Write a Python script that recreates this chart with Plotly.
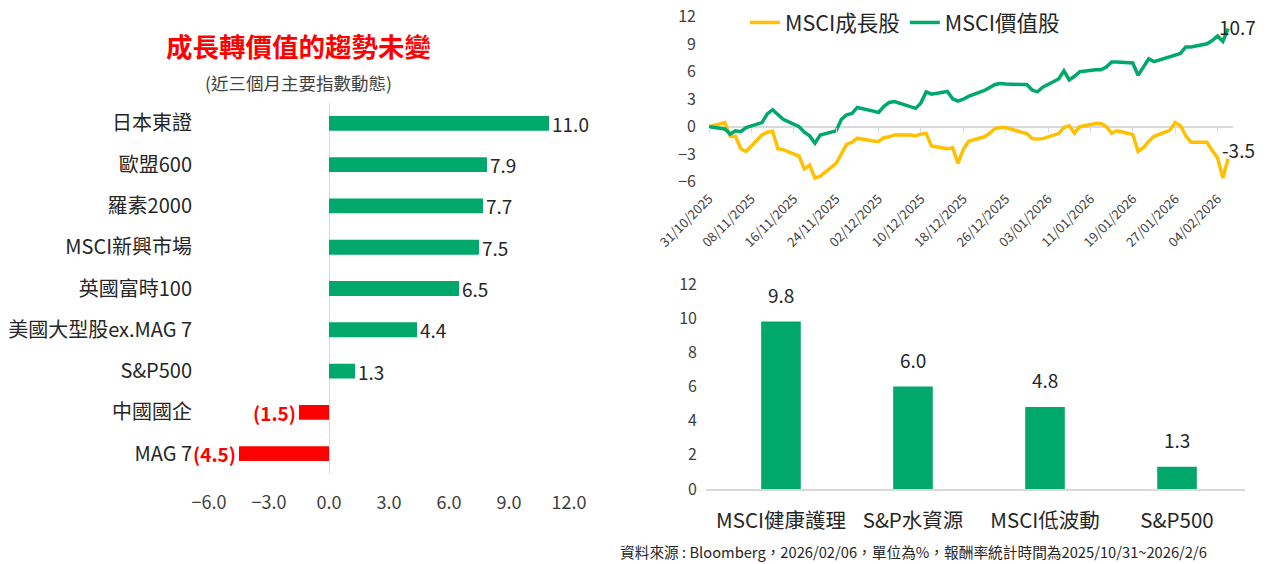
import pandas as pd
import plotly.graph_objects as go

# the page body adds an 8px margin, so the figure is drawn 8px smaller
OFF = 8
W, H = 1273 - OFF, 564 - OFF
FONT = "Noto Sans CJK TC"
GREEN = "#00A86B"
YELLOW = "#FFC000"
RED = "#FF0000"
AXIS_GRAY = "#D9D9D9"
TEXT_DARK = "#262626"
TEXT_GRAY = "#404040"

# Left chart: 3-month index returns (%)
index_names = ["日本東證", "歐盟600", "羅素2000", "MSCI新興市場", "英國富時100",
               "美國大型股ex.MAG 7", "S&P500", "中國國企", "MAG 7"]
index_returns = [11.0, 7.9, 7.7, 7.5, 6.5, 4.4, 1.3, -1.5, -4.5]
left_ticks = [-6.0, -3.0, 0.0, 3.0, 6.0, 9.0, 12.0]

# Top right: cumulative return since 31/10/2025 (%), trading days
trade_dates = pd.bdate_range("2025-10-31", "2026-02-06")
growth_ret = [
    0, 0.45, -1.05, -1.05, -2.4, -2.7,
    -0.9, -0.6, -0.5, -2.4, -2.5,
    -3.2, -4.6, -4.2, -5.6, -5.4,
    -4.0, -3.0, -1.9, -1.7, -1.25,
    -1.55, -1.6, -1.2, -1.1, -0.9,
    -0.9, -1.0, -0.8, -0.75, -2.1,
    -2.4, -2.3, -4.0, -2.5, -1.6,
    -1.1, -0.7, -0.2, -0.1, -0.1,
    -0.6, -0.75, -1.3, -1.35, -1.3,
    -0.75, -0.1, 0.1, -0.7, 0.0,
    0.35, 0.35, 0.0, -0.7, -0.45,
    -0.85, -2.7, -2.3, -1.6, -1.05,
    -0.4, 0.45, 0.1, -1.0, -1.7,
    -1.7, -2.6, -3.4, -5.6, -3.5,
]
value_ret = [
    0, -0.25, -0.8, -0.45, -0.55, -0.1,
    0.45, 1.4, 1.85, 1.3, 0.8,
    0.0, -0.6, -1.0, -1.8, -0.9,
    -0.45, 0.8, 1.3, 1.45, 2.1,
    1.7, 1.55, 2.2, 2.65, 2.75,
    2.2, 2.0, 2.6, 3.8, 3.55,
    3.85, 3.05, 2.8, 3.0, 3.3,
    3.95, 4.25, 4.6, 4.7, 4.65,
    4.6, 4.6, 4.0, 3.8, 4.3,
    5.2, 6.1, 5.1, 5.5, 6.0,
    6.2, 6.2, 6.5, 7.05, 7.05,
    6.95, 5.6, 6.5, 7.4, 7.1,
    7.65, 7.85, 8.0, 8.7, 8.7,
    9.05, 9.4, 9.9, 9.3, 10.7,
]

# Bottom right: value-style themes (%)
theme_names = ["MSCI健康護理", "S&P水資源", "MSCI低波動", "S&P500"]
theme_returns = [9.8, 6.0, 4.8, 1.3]

footnote = "資料來源 : Bloomberg，2026/02/06，單位為%，報酬率統計時間為2025/10/31~2026/2/6"


def px_x(p):
    return (p - OFF) / W


def px_y(p):
    return 1 - (p - OFF) / H


fig = go.Figure()

# ---- left: horizontal bars
bar_colors = [GREEN if v >= 0 else RED for v in index_returns]
bar_text = [f"{v:.1f}" if v >= 0 else f"<b>({abs(v):.1f})</b>" for v in index_returns]
bar_text_colors = [TEXT_DARK if v >= 0 else RED for v in index_returns]
fig.add_trace(go.Bar(
    x=index_returns, y=index_names, orientation="h",
    marker=dict(color=bar_colors, line=dict(width=0)),
    width=0.36,
    text=bar_text, textposition="outside", constraintext="none",
    textfont=dict(size=19, color=bar_text_colors, family=FONT),
    cliponaxis=False, showlegend=False, hoverinfo="x+y",
    xaxis="x", yaxis="y",
))

# ---- top right: lines
fig.add_trace(go.Scatter(
    x=trade_dates, y=growth_ret, mode="lines", name="MSCI成長股",
    line=dict(color=YELLOW, width=3.5), xaxis="x2", yaxis="y2",
))
fig.add_trace(go.Scatter(
    x=trade_dates, y=value_ret, mode="lines", name="MSCI價值股",
    line=dict(color=GREEN, width=3.5), xaxis="x2", yaxis="y2",
))
# invisible trace so the zero-line tick axis is drawn
fig.add_trace(go.Scatter(
    x=trade_dates, y=value_ret, mode="lines", opacity=0,
    line=dict(width=0), showlegend=False, hoverinfo="skip",
    xaxis="x3", yaxis="y2",
))

# ---- bottom right: vertical bars
fig.add_trace(go.Bar(
    x=theme_names, y=theme_returns, width=0.3,
    marker=dict(color=GREEN, line=dict(width=0)),
    showlegend=False, xaxis="x4", yaxis="y4",
))

line_dom_y = [px_y(181.7), px_y(16.7)]
zero_pos = line_dom_y[0] + (line_dom_y[1] - line_dom_y[0]) * 6 / 18

fig.update_layout(
    width=W, height=H,
    margin=dict(l=0, r=0, t=0, b=0, autoexpand=False),
    paper_bgcolor="white", plot_bgcolor="white",
    font=dict(family=FONT, color=TEXT_GRAY),
    xaxis=dict(
        domain=[px_x(209), px_x(569)], range=[-6, 12],
        tickvals=left_ticks, tickformat=".1f",
        showgrid=False, zeroline=True, zerolinecolor=AXIS_GRAY, zerolinewidth=1,
        tickfont=dict(size=18, color=TEXT_GRAY), ticklabelstandoff=16,
        anchor="y", automargin=False, ticklabeloverflow="allow",
    ),
    yaxis=dict(
        domain=[px_y(474.3), px_y(102.7)], autorange="reversed",
        showgrid=False, ticks="", tickfont=dict(size=20, color=TEXT_DARK),
        ticklabelstandoff=16, anchor="x", automargin=False,
    ),
    xaxis2=dict(
        domain=[px_x(709), px_x(1233)], type="date",
        range=["2025-10-31", "2026-02-06 22:00"],
        tick0="2025-10-31", dtick=8 * 86400000, tickformat="%d/%m/%Y",
        tickangle=-45, tickfont=dict(size=13, color=TEXT_GRAY),
        showgrid=False, showline=False, ticks="", anchor="y2",
        ticklabelstandoff=6, automargin=False, ticklabeloverflow="allow",
    ),
    xaxis3=dict(
        matches="x2", overlaying="x2", anchor="free", position=zero_pos,
        showticklabels=False, showgrid=False, showline=False,
        ticks="outside", ticklen=5, tickcolor=AXIS_GRAY, tickwidth=1,
        tick0="2025-10-31", dtick=8 * 86400000, automargin=False,
    ),
    yaxis2=dict(
        domain=line_dom_y, range=[-6, 12], dtick=3,
        showgrid=False, zeroline=True, zerolinecolor=AXIS_GRAY, zerolinewidth=1.5,
        tickfont=dict(size=16, color=TEXT_GRAY), ticklabelstandoff=12,
        anchor="x2", automargin=False, ticklabeloverflow="allow",
    ),
    xaxis4=dict(
        domain=[px_x(706), px_x(1245)], range=[-0.568, 3.515],
        showgrid=False, showline=True, linecolor=AXIS_GRAY, linewidth=1.5,
        ticks="", tickfont=dict(size=20.5, color=TEXT_DARK),
        ticklabelstandoff=13, anchor="y4", automargin=False,
    ),
    yaxis4=dict(
        domain=[px_y(489), px_y(284)], range=[0, 12], dtick=2,
        showgrid=False, zeroline=False, showline=False,
        tickfont=dict(size=16, color=TEXT_GRAY), ticklabelstandoff=8,
        anchor="x4", automargin=False, ticklabeloverflow="allow",
    ),
    legend=dict(
        orientation="h", x=px_x(745), y=1 + 6 / H, xanchor="left", yanchor="top",
        font=dict(size=21.5, color=TEXT_DARK), bgcolor="rgba(0,0,0,0)",
    ),
    bargap=0.2,
)

# end labels for the lines
fig.add_annotation(
    x=trade_dates[-1], y=value_ret[-1], xref="x2", yref="y2",
    text=f"{value_ret[-1]:.1f}", showarrow=False, xshift=9, yshift=2,
    font=dict(size=19, color=TEXT_DARK),
)
fig.add_annotation(
    x=trade_dates[-1], y=growth_ret[-1], xref="x2", yref="y2",
    text=f"{growth_ret[-1]:.1f}", showarrow=False, xshift=10, yshift=9,
    font=dict(size=19, color=TEXT_DARK),
)

# value labels above the theme bars
for name, val in zip(theme_names, theme_returns):
    fig.add_annotation(
        x=name, y=val, xref="x4", yref="y4", text=f"{val:.1f}",
        showarrow=False, yanchor="bottom", yshift=12,
        font=dict(size=19, color=TEXT_DARK),
    )

# titles and footnote
fig.add_annotation(
    x=px_x(298), y=px_y(45), xref="paper", yref="paper",
    xanchor="center", yanchor="middle",
    text="<b>成長轉價值的趨勢未變</b>", showarrow=False,
    font=dict(size=26.5, color=RED),
)
fig.add_annotation(
    x=px_x(298), y=px_y(82), xref="paper", yref="paper",
    xanchor="center", yanchor="middle",
    text="(近三個月主要指數動態)", showarrow=False,
    font=dict(size=17.5, color=TEXT_GRAY),
)
fig.add_annotation(
    x=px_x(913), y=px_y(551), xref="paper", yref="paper",
    xanchor="center", yanchor="middle",
    text=footnote, showarrow=False,
    font=dict(size=14.7, color=TEXT_DARK),
)

fig.write_html("out.html")
